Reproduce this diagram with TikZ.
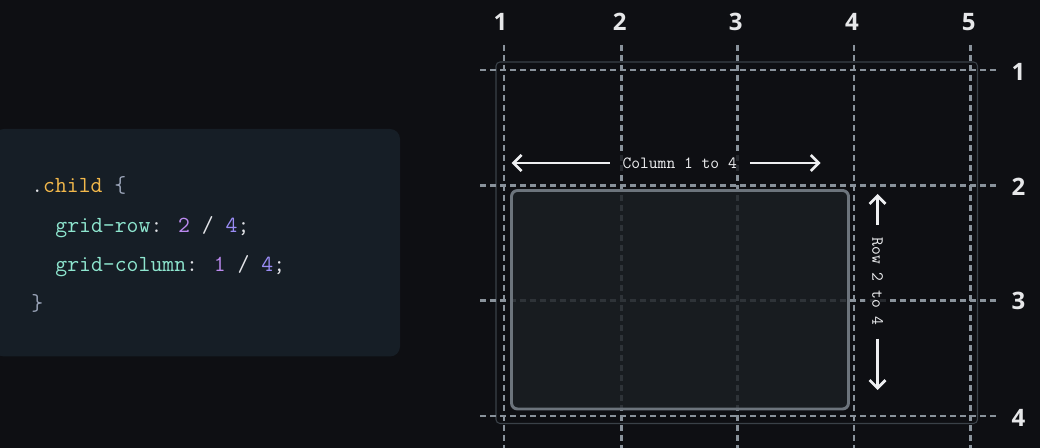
\documentclass[tikz,border=0pt]{standalone}
\usepackage{fontspec}
\usepackage{tikz}
\usetikzlibrary{arrows.meta,positioning}
\newfontfamily\numfont{Open Sans}

\definecolor{bgdark}{HTML}{0E0F13}
\definecolor{codebg}{HTML}{161E26}
\definecolor{gridgray}{HTML}{89929B}
\definecolor{boxgray}{HTML}{3A4148}
\definecolor{childgray}{HTML}{6C747C}
\definecolor{childfill}{HTML}{1B1F23}
\definecolor{numwhite}{HTML}{E6E7E9}
\definecolor{labelwhite}{HTML}{EEEFF1}
\definecolor{codewhite}{HTML}{E2E4E8}
\definecolor{codegold}{HTML}{F2B84B}
\definecolor{codebrace}{HTML}{9AA4B8}
\definecolor{codemint}{HTML}{8EE6CF}
\definecolor{codeviolet}{HTML}{BC8AF0}
\definecolor{codeblue}{HTML}{9A8CF5}

\tikzset{
	gridline/.style={draw=gridgray, line width=1.9pt, dash pattern=on 4.5pt off 3pt},
	gridnum/.style={text=numwhite, font=\numfont\bfseries\fontsize{18}{18}\selectfont, inner sep=0pt},
	codeline/.style={anchor=base west, inner sep=0pt, font=\ttfamily\fontsize{17.3}{20}\selectfont},
	spanlabel/.style={text=labelwhite, font=\ttfamily\fontsize{12.8}{14}\selectfont, fill=bgdark, fill opacity=0.8, text opacity=1, inner xsep=9.5pt, inner ysep=5pt},
	spanarrow/.style={draw=labelwhite, line width=2pt, -{Straight Barb[length=6pt,width=12pt]}}
}

\begin{document}
\begin{tikzpicture}[x=0.75pt, y=-0.75pt]
			%%%%% START %%%%%
			
			\useasboundingbox[fill=bgdark] (0, 0) rectangle (1040, 448);
			
			% code panel
			\fill[codebg, rounded corners=7.5pt] (-6, 129) rectangle (400, 356.5);
			\node[codeline] (ln1) at (31, 192.7) {\textcolor{codewhite}{.}\textcolor{codegold}{child} \textcolor{codebrace}{\{}};
			\node[codeline] (ln2) at (55.2, 232.7) {\textcolor{codemint}{grid-row}\textcolor{codewhite}{:} \textcolor{codeviolet}{2} \textcolor{codewhite}{/} \textcolor{codeblue}{4}\textcolor{codewhite}{;}};
			\node[codeline] (ln3) at (55.2, 271.7) {\textcolor{codemint}{grid-column}\textcolor{codewhite}{:} \textcolor{codeviolet}{1} \textcolor{codewhite}{/} \textcolor{codeblue}{4}\textcolor{codewhite}{;}};
			\node[codeline] (ln4) at (31, 310.2) {\textcolor{codebrace}{\}}};
			
			% container
			\draw[boxgray, line width=0.8pt, rounded corners=3pt] (496, 62) rectangle (977.5, 423.5);
			
			% grid lines
			\draw[gridline] (504, 45) -- (504, 448);
			\draw[gridline] (621.5, 45) -- (621.5, 448);
			\draw[gridline] (737.5, 45) -- (737.5, 448);
			\draw[gridline] (854, 45) -- (854, 448);
			\draw[gridline] (970.5, 45) -- (970.5, 448);
			\draw[gridline] (480, 70) -- (996, 70);
			\draw[gridline] (480, 185.5) -- (996, 185.5);
			\draw[gridline] (480, 300.5) -- (996, 300.5);
			\draw[gridline] (480, 416) -- (996, 416);
			
			% child item
			\draw[childgray, line width=2.2pt, fill=childfill, fill opacity=0.82, rounded corners=4.5pt] (511.5, 190.5) rectangle (848.5, 409);
			
			% spans
			\node[spanlabel] (collbl) at (679.7, 163) {Column 1 to 4};
			\coordinate (colL) at (511.7, 163);
			\coordinate (colR) at (820.7, 163);
			\draw[spanarrow] (collbl.west) -- (colL);
			\draw[spanarrow] (collbl.east) -- (colR);
			
			\node[spanlabel, rotate=-90] (rowlbl) at (877.5, 281.7) {Row 2 to 4};
			\coordinate (rowT) at (877.5, 194);
			\coordinate (rowB) at (877.5, 390);
			\draw[spanarrow] (rowlbl.west) -- (rowT);
			\draw[spanarrow] (rowlbl.east) -- (rowB);
			
			% line numbers
			\node[gridnum] (c1) at (500.5, 22) {1};
			\node[gridnum] (c2) at (619.6, 22) {2};
			\node[gridnum] (c3) at (735.7, 22) {3};
			\node[gridnum] (c4) at (852, 22) {4};
			\node[gridnum] (c5) at (968.6, 22) {5};
			\node[gridnum] (r1) at (1018.5, 72) {1};
			\node[gridnum] (r2) at (1018.5, 186.5) {2};
			\node[gridnum] (r3) at (1018.5, 301) {3};
			\node[gridnum] (r4) at (1018.5, 417.5) {4};
			
			%%%%% END %%%%%
\end{tikzpicture}
\end{document}
